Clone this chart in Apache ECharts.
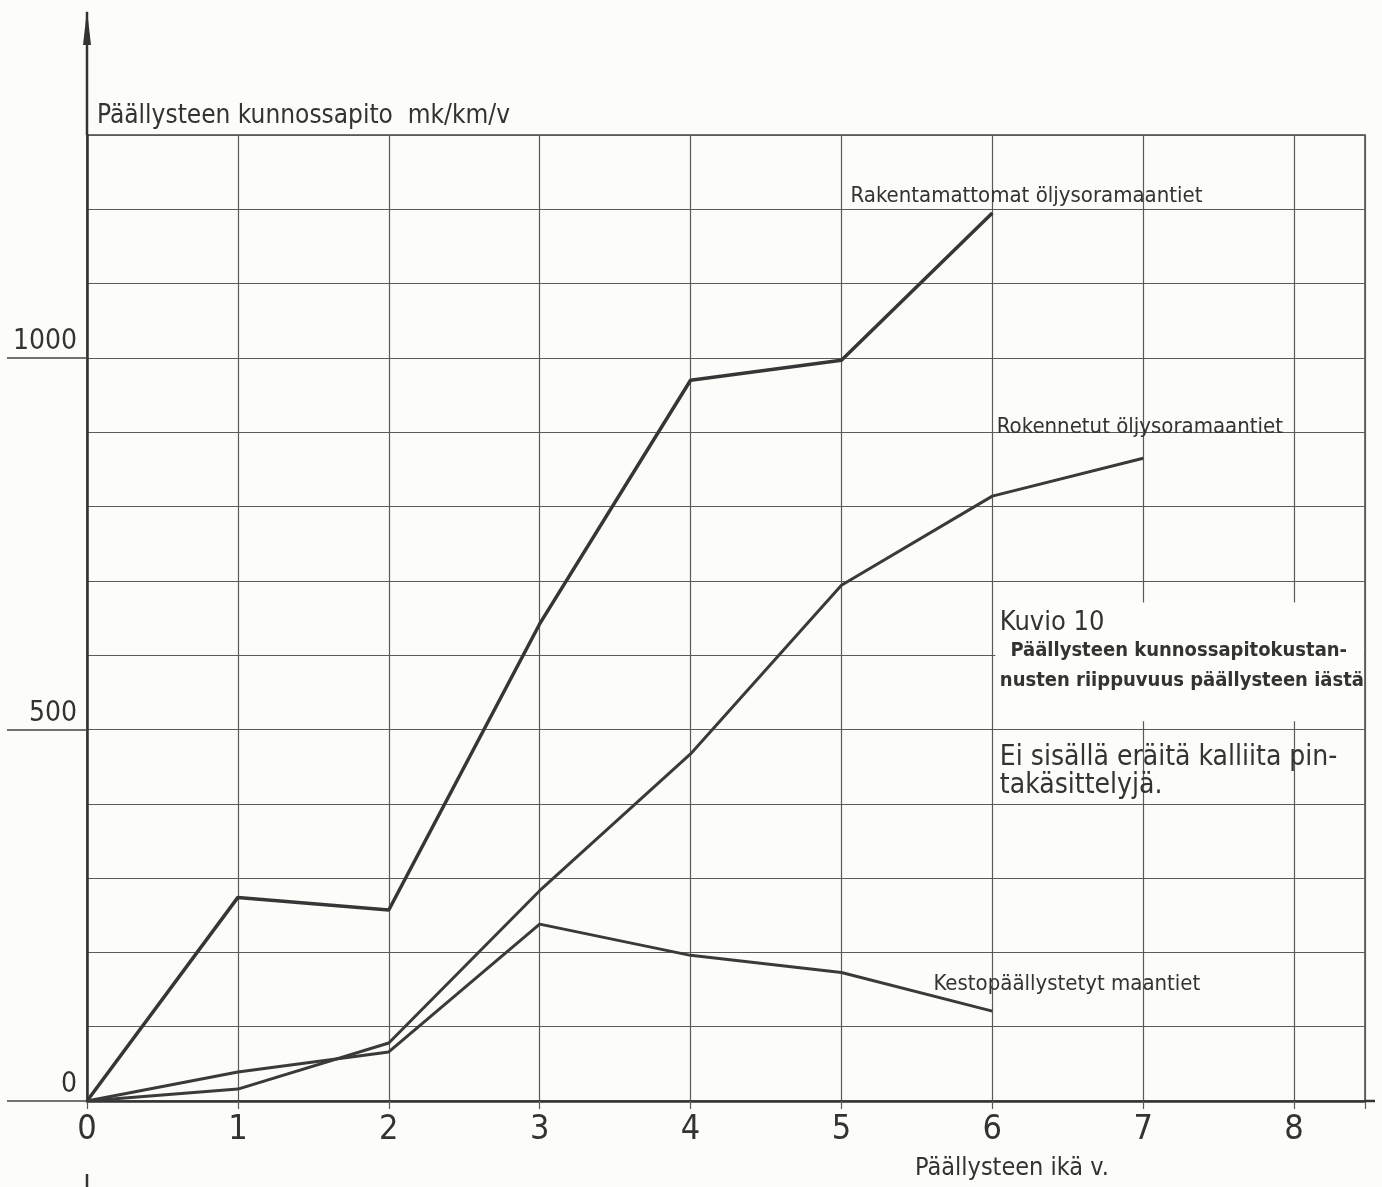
<!DOCTYPE html>
<html><head><meta charset="utf-8">
<script src="https://cdn.jsdelivr.net/npm/echarts@6/dist/echarts.min.js"></script>
<style>html,body{margin:0;padding:0;background:#fcfcf8}#c{width:1382px;height:1187px}</style>
</head><body><div id="c"></div>
<script>
(function () {
// Data
const ages = [0, 1, 2, 3, 4, 5, 6, 7];
const rakentamattomat = [0, 274, 257, 642, 970, 997, 1195];      // Rakentamattomat öljysoramaantiet
const rakennetut = [0, 16, 78, 283, 467, 694, 814, 865];          // Rokennetut öljysoramaantiet
const kesto = [0, 39, 66, 238, 196, 173, 121];                    // Kestopäällystetyt maantiet
const xTicks = [0, 1, 2, 3, 4, 5, 6, 7, 8];
const yTickLabels = [0, 500, 1000];

const F = '"DejaVu Sans Condensed", "DejaVu Sans", sans-serif';
const NARROW = '"Liberation Sans Narrow", "DejaVu Sans Condensed", sans-serif';
const INK = '#333333';
const GRIDC = '#5a5a5a';

const pairs = (vals) => vals.map((v, i) => [ages[i], v]);

const chart = echarts.init(document.getElementById('c'), null, {renderer: 'canvas'});
chart.setOption({
  backgroundColor: '#fcfcf8',
  animation: false,
  grid: {left: 87, top: 135, right: 17, bottom: 86, show: true, borderColor: '#444', borderWidth: 1.5},
  xAxis: {
    type: 'value', min: 0, max: 8.47, interval: 1,
    axisLine: {show: true, onZero: false, lineStyle: {color: INK, width: 2.5}},
    axisTick: {show: true, length: 8, lineStyle: {color: GRIDC, width: 1.2}},
    splitLine: {show: true, lineStyle: {color: GRIDC, width: 1.2}},
    axisLabel: {
      color: INK, fontSize: 34, fontFamily: NARROW, margin: 12,
      formatter: v => (xTicks.indexOf(v) >= 0 ? String(v) : '')
    }
  },
  yAxis: [
    {
      type: 'value', min: 0, max: 1300, interval: 100,
      name: 'Päällysteen kunnossapito  mk/km/v',
      nameLocation: 'end', nameGap: 6,
      nameTextStyle: {color: INK, fontSize: 26, fontFamily: F, align: 'left', verticalAlign: 'bottom', padding: [0, 0, 0, 10]},
      axisLine: {show: true, lineStyle: {color: INK, width: 2.5}},
      axisTick: {show: false},
      splitLine: {show: true, lineStyle: {color: GRIDC, width: 1.2}},
      axisLabel: {show: false}
    },
    {
      type: 'value', min: 0, max: 1300, position: 'left', offset: 0,
      axisLine: {show: false},
      splitLine: {show: false},
      axisTick: {show: true, customValues: yTickLabels, length: 80, lineStyle: {color: '#444', width: 1.5}},
      axisLabel: {
        customValues: yTickLabels, color: INK, fontSize: 28, fontFamily: F,
        margin: 10, verticalAlign: 'bottom', padding: [0, 0, 2, 0],
        formatter: v => String(v)
      }
    }
  ],
  series: [
    {name: 'Rakentamattomat öljysoramaantiet', type: 'line', data: pairs(rakentamattomat), symbol: 'none',
     lineStyle: {color: '#363636', width: 3.5}, z: 5},
    {name: 'Rokennetut öljysoramaantiet', type: 'line', data: pairs(rakennetut), symbol: 'none',
     lineStyle: {color: '#3a3a3a', width: 3}, z: 5},
    {name: 'Kestopäällystetyt maantiet', type: 'line', data: pairs(kesto), symbol: 'none',
     lineStyle: {color: '#3a3a3a', width: 3}, z: 5}
  ]
});

const p = (x, y) => chart.convertToPixel({gridIndex: 0}, [x, y]);
const o = p(0, 0), axTop = p(0, 1300), rightEnd = p(8.47, 0);
const boxA = p(6.02, 671), boxB = p(8.47, 511);
const txt = (x, y, text, size, opts) => {
  const q = p(x, y);
  return Object.assign({type: 'text', x: q[0], y: q[1], z: 20,
    style: Object.assign({text: text, fill: INK, font: size + 'px ' + F, textAlign: 'left', textVerticalAlign: 'middle'}, opts || {})});
};
const xName = p(6.13, 0);

chart.setOption({
  graphic: [
    {type: 'rect', z: 1, shape: {x: boxA[0], y: boxA[1], width: boxB[0] - boxA[0] - 1, height: boxB[1] - boxA[1]},
     style: {fill: '#fdfdfa'}},
    {type: 'line', z: 10, shape: {x1: axTop[0], y1: axTop[1], x2: axTop[0], y2: 12}, style: {stroke: INK, lineWidth: 2.5}},
    {type: 'polygon', z: 10, shape: {points: [[axTop[0], 10], [axTop[0] - 4, 45], [axTop[0] + 4, 45]]}, style: {fill: INK}},
    {type: 'line', z: 10, shape: {x1: o[0], y1: 1174, x2: o[0], y2: 1187}, style: {stroke: INK, lineWidth: 2.5}},
    {type: 'line', z: 10, shape: {x1: rightEnd[0], y1: rightEnd[1], x2: rightEnd[0] + 10, y2: rightEnd[1]}, style: {stroke: INK, lineWidth: 2.5}},
    txt(5.06, 1218, 'Rakentamattomat öljysoramaantiet', 22, {font: '500 22px ' + F}),
    txt(6.03, 907, 'Rokennetut öljysoramaantiet', 22),
    txt(5.61, 157, 'Kestopäällystetyt maantiet', 22),
    txt(6.05, 643, 'Kuvio 10', 27),
    txt(6.12, 606, 'Päällysteen kunnossapitokustan-', 20, {font: 'bold 20px ' + F}),
    txt(6.05, 566, 'nusten riippuvuus päällysteen iästä', 20, {font: 'bold 20px ' + F}),
    txt(6.05, 462, 'Ei sisällä eräitä kalliita pin-', 28),
    txt(6.05, 424, 'takäsittelyjä.', 28),
    {type: 'text', x: xName[0], y: 1168, z: 20,
     style: {text: 'Päällysteen ikä v.', fill: INK, font: '25px ' + F, textAlign: 'center', textVerticalAlign: 'middle'}}
  ]
});
})();
</script></body></html>
